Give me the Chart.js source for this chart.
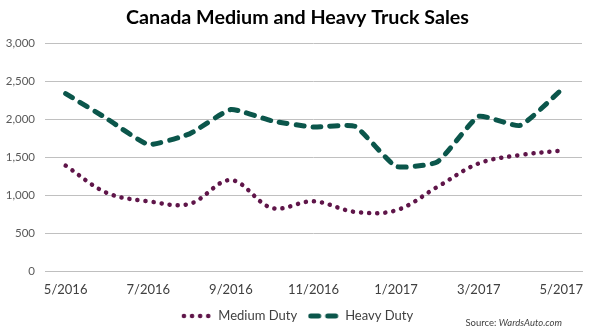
<!DOCTYPE html>
<html>
<head>
<meta charset="utf-8">
<script src="https://cdn.jsdelivr.net/npm/chart.js@4/dist/chart.umd.min.js"></script>
<style>
  body { margin: 0; background: #fff; }
  #wrap { position: relative; width: 595px; height: 335px; }
  #source {
    position: absolute; right: 33px; top: 317px;
    font-family: Lato, "Open Sans", sans-serif; font-size: 9.5px; color: #404040;
  }
</style>
</head>
<body>
<div id="wrap">
  <canvas id="truckChart" width="595" height="335"></canvas>
  <div id="source">Source: <i>WardsAuto.com</i></div>
</div>
<script>
// Monthly sales, 5/2016 - 5/2017
const months = ['5/2016', '6/2016', '7/2016', '8/2016', '9/2016', '10/2016', '11/2016',
                '12/2016', '1/2017', '2/2017', '3/2017', '4/2017', '5/2017'];
const mediumDuty = [1390, 1030, 920, 885, 1200, 830, 920, 780, 800, 1110, 1420, 1530, 1590];
const heavyDuty = [2340, 2010, 1670, 1810, 2130, 1980, 1900, 1910, 1380, 1440, 2040, 1920, 2390];
const yTicks = [0, 500, 1000, 1500, 2000, 2500, 3000];

const mediumColor = '#5f1549';
const heavyColor = '#0b564b';
const fontFamily = 'Lato, "Open Sans", sans-serif';

// small canvases used as legend samples
function legendSample(color, dash, width) {
    const c = document.createElement('canvas');
    c.width = 32;
    c.height = 10;
    const g = c.getContext('2d');
    g.strokeStyle = color;
    g.lineWidth = width;
    g.lineCap = 'round';
    g.setLineDash(dash);
    g.beginPath();
    g.moveTo(3, 5);
    g.lineTo(30, 5);
    g.stroke();
    return c;
}
const mediumSample = legendSample(mediumColor, [0.1, 8], 4.5);
const heavySample = legendSample(heavyColor, [8, 9], 5);

const ctx = document.getElementById('truckChart').getContext('2d');
const truckChart = new Chart(ctx, {
    type: 'line',
    data: {
        labels: months,
        datasets: [{
            label: 'Medium Duty',
            data: mediumDuty,
            borderColor: mediumColor,
            borderWidth: 4.5,
            borderDash: [0.1, 8],
            borderCapStyle: 'round',
            tension: 0.35,
            pointRadius: 0,
            fill: false
        }, {
            label: 'Heavy Duty',
            data: heavyDuty,
            borderColor: heavyColor,
            borderWidth: 5,
            borderDash: [8, 9],
            borderCapStyle: 'round',
            tension: 0.15,
            pointRadius: 0,
            fill: false
        }]
    },
    options: {
        responsive: false,
        animation: false,
        layout: {
            padding: { left: 0, right: 0, top: 0, bottom: 2.5 }
        },
        scales: {
            x: {
                offset: true,
                afterFit: function(scale) { scale.height = 27; },
                grid: { display: false, drawTicks: false },
                border: { display: true, color: '#bfbfbf', width: 1 },
                ticks: {
                    autoSkip: false,
                    maxRotation: 0,
                    padding: 11,
                    color: '#404040',
                    font: { family: fontFamily, size: 13 },
                    callback: function(value, index) {
                        return index % 2 === 0 ? months[index] : '';
                    }
                }
            },
            y: {
                min: 0,
                max: 3000,
                afterFit: function(scale) { scale.width = 45; },
                afterBuildTicks: function(scale) {
                    scale.ticks = yTicks.map(v => ({ value: v }));
                },
                grid: { color: '#c0c0c0', lineWidth: 1, drawTicks: false },
                border: { display: false },
                ticks: {
                    padding: 10,
                    color: '#595959',
                    font: { family: fontFamily, size: 11.5 },
                    callback: v => v.toLocaleString('en-US')
                }
            },
            // empty right-hand axis, only keeps the plot clear of the right edge
            yRight: {
                position: 'right',
                display: true,
                afterFit: function(scale) { scale.width = 13; },
                grid: { display: false, drawTicks: false },
                border: { display: false },
                ticks: { display: false }
            }
        },
        plugins: {
            title: {
                display: true,
                text: 'Canada Medium and Heavy Truck Sales',
                color: '#000',
                font: { family: fontFamily, size: 19.7, weight: 'bold' },
                padding: { top: 6, bottom: 14 }
            },
            legend: {
                position: 'bottom',
                labels: {
                    usePointStyle: true,
                    pointStyleWidth: 30,
                    padding: 11.5,
                    color: '#404040',
                    font: { family: fontFamily, size: 13 },
                    generateLabels: function(chart) {
                        return chart.data.datasets.map((ds, i) => ({
                            text: ds.label,
                            pointStyle: i === 0 ? mediumSample : heavySample,
                            fontColor: '#404040',
                            lineWidth: 0,
                            datasetIndex: i
                        }));
                    }
                }
            },
            tooltip: { enabled: false }
        }
    }
});
</script>
</body>
</html>
